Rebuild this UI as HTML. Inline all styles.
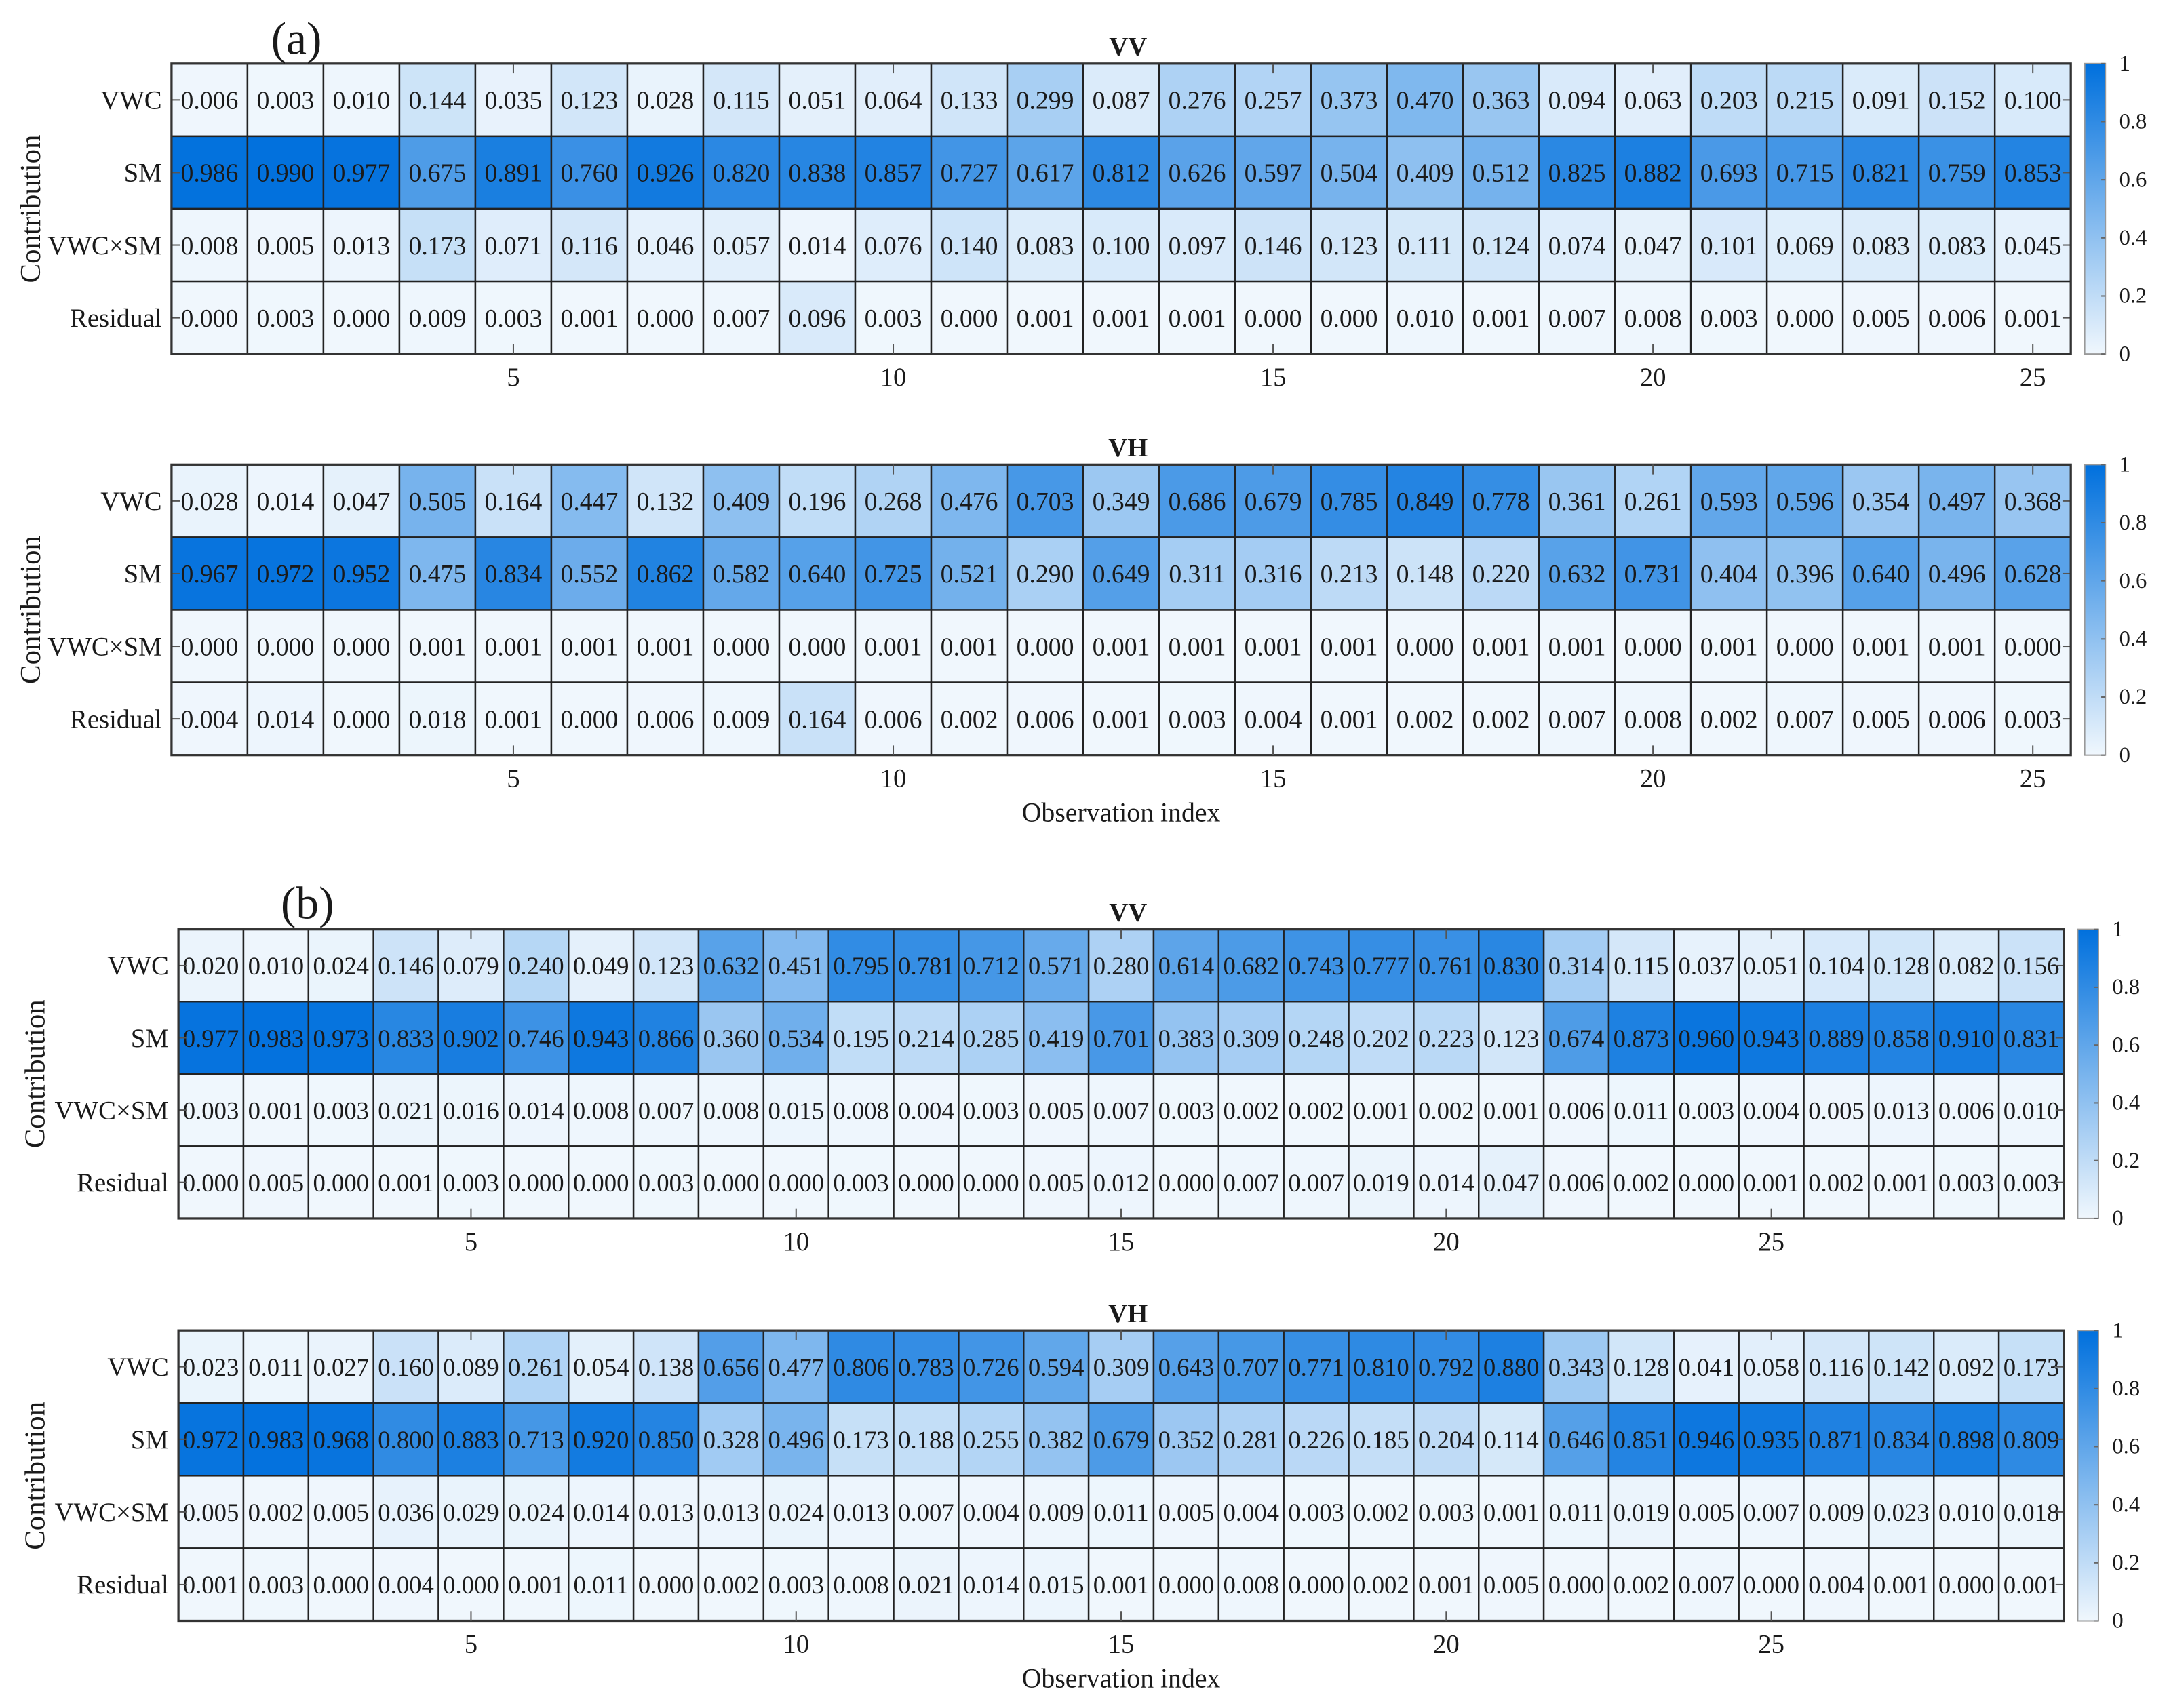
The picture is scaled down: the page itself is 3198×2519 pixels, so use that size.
<!DOCTYPE html>
<html><head><meta charset="utf-8"><style>
html,body{margin:0;padding:0;background:#fff;}
svg{display:block;}
text{font-family:"Liberation Serif",serif;fill:#1a1a1a;}
</style></head><body>
<svg id="chart" width="3198" height="2519" viewBox="0 0 1568 1235" preserveAspectRatio="none" xmlns="http://www.w3.org/2000/svg">
<defs><linearGradient id="cbg" x1="0" y1="1" x2="0" y2="0"><stop offset="0" stop-color="rgb(240,247,253)"/><stop offset="1" stop-color="rgb(0,112,221)"/></linearGradient></defs>
</svg>
<script>
const rowLabels = ["VWC","SM","VWC×SM","Residual"];
const aVV_VWC = [0.006,0.003,0.010,0.144,0.035,0.123,0.028,0.115,0.051,0.064,0.133,0.299,0.087,0.276,0.257,0.373,0.470,0.363,0.094,0.063,0.203,0.215,0.091,0.152,0.100];
const aVV_SM = [0.986,0.990,0.977,0.675,0.891,0.760,0.926,0.820,0.838,0.857,0.727,0.617,0.812,0.626,0.597,0.504,0.409,0.512,0.825,0.882,0.693,0.715,0.821,0.759,0.853];
const aVV_INT = [0.008,0.005,0.013,0.173,0.071,0.116,0.046,0.057,0.014,0.076,0.140,0.083,0.100,0.097,0.146,0.123,0.111,0.124,0.074,0.047,0.101,0.069,0.083,0.083,0.045];
const aVV_RES = [0.000,0.003,0.000,0.009,0.003,0.001,0.000,0.007,0.096,0.003,0.000,0.001,0.001,0.001,0.000,0.000,0.010,0.001,0.007,0.008,0.003,0.000,0.005,0.006,0.001];
const aVH_VWC = [0.028,0.014,0.047,0.505,0.164,0.447,0.132,0.409,0.196,0.268,0.476,0.703,0.349,0.686,0.679,0.785,0.849,0.778,0.361,0.261,0.593,0.596,0.354,0.497,0.368];
const aVH_SM = [0.967,0.972,0.952,0.475,0.834,0.552,0.862,0.582,0.640,0.725,0.521,0.290,0.649,0.311,0.316,0.213,0.148,0.220,0.632,0.731,0.404,0.396,0.640,0.496,0.628];
const aVH_INT = [0.000,0.000,0.000,0.001,0.001,0.001,0.001,0.000,0.000,0.001,0.001,0.000,0.001,0.001,0.001,0.001,0.000,0.001,0.001,0.000,0.001,0.000,0.001,0.001,0.000];
const aVH_RES = [0.004,0.014,0.000,0.018,0.001,0.000,0.006,0.009,0.164,0.006,0.002,0.006,0.001,0.003,0.004,0.001,0.002,0.002,0.007,0.008,0.002,0.007,0.005,0.006,0.003];
const bVV_VWC = [0.020,0.010,0.024,0.146,0.079,0.240,0.049,0.123,0.632,0.451,0.795,0.781,0.712,0.571,0.280,0.614,0.682,0.743,0.777,0.761,0.830,0.314,0.115,0.037,0.051,0.104,0.128,0.082,0.156];
const bVV_SM = [0.977,0.983,0.973,0.833,0.902,0.746,0.943,0.866,0.360,0.534,0.195,0.214,0.285,0.419,0.701,0.383,0.309,0.248,0.202,0.223,0.123,0.674,0.873,0.960,0.943,0.889,0.858,0.910,0.831];
const bVV_INT = [0.003,0.001,0.003,0.021,0.016,0.014,0.008,0.007,0.008,0.015,0.008,0.004,0.003,0.005,0.007,0.003,0.002,0.002,0.001,0.002,0.001,0.006,0.011,0.003,0.004,0.005,0.013,0.006,0.010];
const bVV_RES = [0.000,0.005,0.000,0.001,0.003,0.000,0.000,0.003,0.000,0.000,0.003,0.000,0.000,0.005,0.012,0.000,0.007,0.007,0.019,0.014,0.047,0.006,0.002,0.000,0.001,0.002,0.001,0.003,0.003];
const bVH_VWC = [0.023,0.011,0.027,0.160,0.089,0.261,0.054,0.138,0.656,0.477,0.806,0.783,0.726,0.594,0.309,0.643,0.707,0.771,0.810,0.792,0.880,0.343,0.128,0.041,0.058,0.116,0.142,0.092,0.173];
const bVH_SM = [0.972,0.983,0.968,0.800,0.883,0.713,0.920,0.850,0.328,0.496,0.173,0.188,0.255,0.382,0.679,0.352,0.281,0.226,0.185,0.204,0.114,0.646,0.851,0.946,0.935,0.871,0.834,0.898,0.809];
const bVH_INT = [0.005,0.002,0.005,0.036,0.029,0.024,0.014,0.013,0.013,0.024,0.013,0.007,0.004,0.009,0.011,0.005,0.004,0.003,0.002,0.003,0.001,0.011,0.019,0.005,0.007,0.009,0.023,0.010,0.018];
const bVH_RES = [0.001,0.003,0.000,0.004,0.000,0.001,0.011,0.000,0.002,0.003,0.008,0.021,0.014,0.015,0.001,0.000,0.008,0.000,0.002,0.001,0.005,0.000,0.002,0.007,0.000,0.004,0.001,0.000,0.001];
const xTicks = [5,10,15,20,25];
const cbTicks = [0,0.2,0.4,0.6,0.8,1];
const cbTickLabels = ["0","0.2","0.4","0.6","0.8","1"];

const svg = document.getElementById('chart');
const NS = 'http://www.w3.org/2000/svg';
function mk(tag, attrs, parent){const e=document.createElementNS(NS,tag);for(const k in attrs)e.setAttribute(k,attrs[k]);(parent||svg).appendChild(e);return e;}
function color(v){const a=[240,247,253],b=[0,112,221];return 'rgb('+a.map((c,i)=>Math.round(c+(b[i]-c)*v)).join(',')+')';}

function panel(cfg){
  const g=mk('g',{});
  
  
  const n=cfg.rows[0].length, L=cfg.x0, R=cfg.x1, T=cfg.y0, B=cfg.y1;
  const cw=(R-L)/n, rh=(B-T)/4;
  const xs=i=>L+i*cw, ys=r=>T+r*rh;
  cfg.rows.forEach((row,r)=>{
    row.forEach((v,i)=>{
      const rc=mk('rect',{x:xs(i),y:ys(r),width:cw,height:rh,fill:color(v),stroke:'#222','stroke-width':1.2},g);
      
      
      const t=mk('text',{x:xs(i)+cw/2,y:ys(r)+rh/2+6.5,'text-anchor':'middle','font-size':cfg.fs},g);
      
      
      t.textContent=v.toFixed(3);
    });
    const lb=mk('text',{x:L-7,y:ys(r)+rh/2+6.5,'text-anchor':'end','font-size':19},g);
    
    
    lb.textContent=rowLabels[r];
    mk('line',{x1:L,x2:L+6,y1:ys(r)+rh/2,y2:ys(r)+rh/2,stroke:'#555','stroke-width':1},g);
    mk('line',{x1:R,x2:R-6,y1:ys(r)+rh/2,y2:ys(r)+rh/2,stroke:'#555','stroke-width':1},g);
  });
  mk('rect',{x:L,y:T,width:R-L,height:B-T,fill:'none',stroke:'#333','stroke-width':1.6},g);
  xTicks.forEach(k=>{
    const x=xs(k-1)+cw/2;
    mk('line',{x1:x,x2:x,y1:B,y2:B-7,stroke:'#555','stroke-width':1},g);
    mk('line',{x1:x,x2:x,y1:T,y2:T+7,stroke:'#555','stroke-width':1},g);
    const t=mk('text',{x:x,y:B+23,'text-anchor':'middle','font-size':19},g);
    
    
    t.textContent=k;
  });
  const tt=mk('text',{x:(L+R)/2+5,y:T-6,'text-anchor':'middle','font-size':19,'font-weight':'bold'},g);
  
  
  tt.textContent=cfg.title;
  const yl=mk('text',{x:0,y:0,'text-anchor':'middle','font-size':21,transform:'translate('+cfg.ylx+','+((T+B)/2)+') rotate(-90)'},g);
  
  
  yl.textContent='Contribution';
  const cx=cfg.cbx, cwid=15;
  const cb=mk('rect',{x:cx,y:T,width:cwid,height:B-T,fill:'url(#cbg)',stroke:'#999','stroke-width':1},g);
  
  
  cbTicks.forEach((v,i)=>{
    const y=B-v*(B-T);
    mk('line',{x1:cx+cwid,x2:cx+cwid-3,y1:y,y2:y,stroke:'#666','stroke-width':1},g);
    const t=mk('text',{x:cx+cwid+10,y:y+5,'font-size':16},g);
    
    
    t.textContent=cbTickLabels[i];
  });
  if(cfg.xlabel){
    const xl=mk('text',{x:(L+R)/2,y:B+48,'text-anchor':'middle','font-size':19.5},g);
    
    
    xl.textContent='Observation index';
  }
}
panel({name:'panel-a-vv',title:'VV',rows:[aVV_VWC,aVV_SM,aVV_INT,aVV_RES],x0:124,x1:1497,y0:46,y1:256,cbx:1507,ylx:29,fs:18.5});
panel({name:'panel-a-vh',title:'VH',rows:[aVH_VWC,aVH_SM,aVH_INT,aVH_RES],x0:124,x1:1497,y0:336,y1:546,cbx:1507,ylx:29,xlabel:true,fs:18.5});
panel({name:'panel-b-vv',title:'VV',rows:[bVV_VWC,bVV_SM,bVV_INT,bVV_RES],x0:129,x1:1492,y0:672,y1:881,cbx:1502,ylx:32,fs:18});
panel({name:'panel-b-vh',title:'VH',rows:[bVH_VWC,bVH_SM,bVH_INT,bVH_RES],x0:129,x1:1492,y0:962,y1:1172,cbx:1502,ylx:32,xlabel:true,fs:18});
const la=mk('text',{x:196,y:39,'font-size':33});


la.textContent='(a)';
const lbb=mk('text',{x:203,y:664,'font-size':33});


lbb.textContent='(b)';
</script>
</body></html>
